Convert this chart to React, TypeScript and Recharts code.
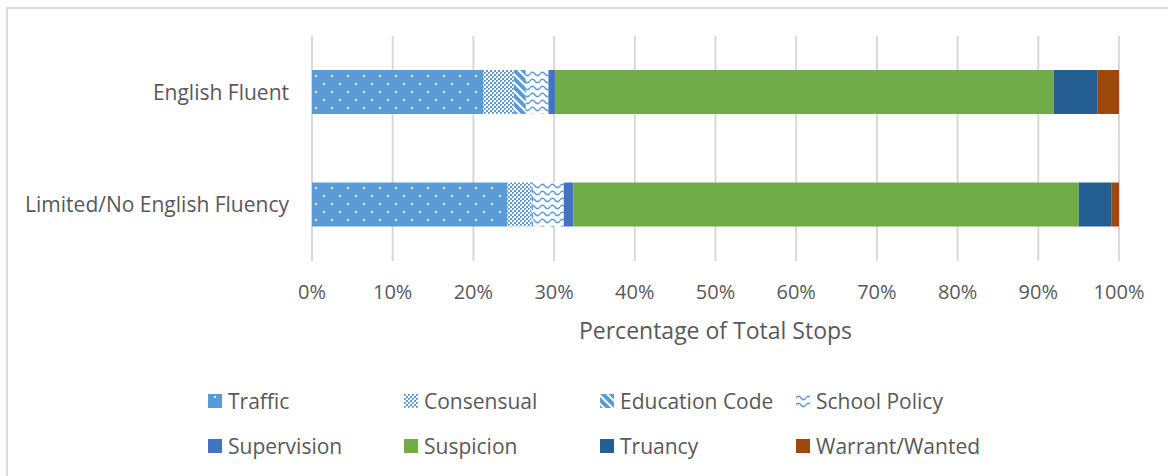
import { BarChart, Bar, XAxis, YAxis, CartesianGrid } from "recharts";

const categories = ["English Fluent", "Limited/No English Fluency"];
const traffic = [21.2, 24.2];
const consensual = [3.8, 3.0];
const educationCode = [1.5, 0.2];
const schoolPolicy = [2.8, 3.8];
const supervision = [0.8, 1.2];
const suspicion = [61.8, 62.6];
const truancy = [5.4, 4.1];
const warrant = [2.7, 0.9];
const xTicks = [0, 10, 20, 30, 40, 50, 60, 70, 80, 90, 100];

const series = [
  { key: "traffic", name: "Traffic", fill: "url(#pTraffic)", legend: "url(#lTraffic)" },
  { key: "consensual", name: "Consensual", fill: "url(#pConsensual)", legend: "url(#pConsensual)" },
  { key: "educationCode", name: "Education Code", fill: "url(#pEducation)", legend: "url(#pEducation)" },
  { key: "schoolPolicy", name: "School Policy", fill: "url(#pSchool)", legend: "url(#pSchool)" },
  { key: "supervision", name: "Supervision", fill: "#4472C4", legend: "#4472C4" },
  { key: "suspicion", name: "Suspicion", fill: "#70AD47", legend: "#70AD47" },
  { key: "truancy", name: "Truancy", fill: "#255E91", legend: "#255E91" },
  { key: "warrant", name: "Warrant/Wanted", fill: "#9E480E", legend: "#9E480E" },
];

const data = categories.map((name, i) => ({
  name,
  traffic: traffic[i],
  consensual: consensual[i],
  educationCode: educationCode[i],
  schoolPolicy: schoolPolicy[i],
  supervision: supervision[i],
  suspicion: suspicion[i],
  truancy: truancy[i],
  warrant: warrant[i],
}));

const FONT = "'Open Sans', sans-serif";
const GRAY = "#595959";
const BLUE = "#5B9BD5";

function Patterns() {
  return (
    <defs>
      <pattern id="pTraffic" width="16" height="16" patternUnits="userSpaceOnUse">
        <rect width="16" height="16" fill={BLUE} />
        <rect x="3" y="3" width="2" height="2" fill="#dcebf8" />
        <rect x="11" y="11" width="2" height="2" fill="#dcebf8" />
      </pattern>
      <pattern id="lTraffic" width="14" height="14" patternUnits="userSpaceOnUse">
        <rect width="14" height="14" fill={BLUE} />
        <rect x="6" y="2" width="2" height="2" fill="#dcebf8" />
      </pattern>
      <pattern id="pConsensual" width="4" height="4" patternUnits="userSpaceOnUse">
        <rect width="4" height="4" fill="#ffffff" />
        <rect x="0" y="0" width="2" height="2" fill={BLUE} />
        <rect x="2" y="2" width="2" height="2" fill={BLUE} />
        <rect x="1" y="1" width="1" height="1" fill="#b9d5ee" />
      </pattern>
      <pattern id="pEducation" width="6" height="6" patternUnits="userSpaceOnUse" patternTransform="rotate(-45)">
        <rect width="6" height="6" fill="#ffffff" />
        <rect x="0" y="0" width="4" height="6" fill={BLUE} />
      </pattern>
      <pattern id="pSchool" width="10" height="7" patternUnits="userSpaceOnUse">
        <rect width="10" height="7" fill="#ffffff" />
        <path d="M0 4 Q2.5 0.5 5 4 T10 4" fill="none" stroke={BLUE} strokeWidth="1.4" />
      </pattern>
    </defs>
  );
}

export default function App() {
  return (
    <div style={{ position: "absolute", left: 0, top: 0, width: 1168, height: 476, background: "#fff", overflow: "hidden", fontFamily: FONT }}>
      <div style={{ position: "absolute", left: 6, top: 7, width: 1180, height: 500, border: "2px solid #dcdcdc", boxSizing: "border-box" }} />
      <div style={{ position: "absolute", left: 0, top: 0 }}>
        <BarChart
          width={1168}
          height={476}
          data={data}
          layout="vertical"
          margin={{ top: 36, right: 49, bottom: 175, left: 0 }}
          barCategoryGap={0}
        >
          <Patterns />
          <CartesianGrid horizontal={false} stroke="#d9d9d9" strokeWidth={2} />
          <XAxis
            type="number"
            domain={[0, 100]}
            ticks={xTicks}
            interval={0}
            tickFormatter={(v) => `${v}%`}
            axisLine={false}
            tickLine={false}
            tickSize={0}
            tickMargin={24}
            height={40}
            tick={{ fill: GRAY, fontSize: 20, fontFamily: FONT }}
          />
          <YAxis
            type="category"
            dataKey="name"
            width={312}
            axisLine={false}
            tickLine={false}
            tickSize={0}
            tickMargin={23}
            tick={{ fill: GRAY, fontSize: 21, fontFamily: FONT }}
          />
          {series.map((s) => (
            <Bar key={s.key} dataKey={s.key} name={s.name} stackId="a" fill={s.fill} barSize={44} isAnimationActive={false} />
          ))}
        </BarChart>
      </div>
      <div style={{ position: "absolute", left: 312, width: 807, top: 315, textAlign: "center", fontSize: 23, color: GRAY, lineHeight: "30px" }}>
        Percentage of Total Stops
      </div>
      {series.map((s, i) => {
        const col = i % 4;
        const row = Math.floor(i / 4);
        return (
          <div
            key={s.key}
            style={{ position: "absolute", left: 208 + col * 196, top: 387 + row * 45, height: 28, display: "flex", alignItems: "center", fontSize: 21, color: GRAY, whiteSpace: "nowrap" }}
          >
            <svg width={14} height={14} style={{ marginRight: 6 }}>
              <Patterns />
              <rect width={14} height={14} fill={s.legend} />
            </svg>
            {s.name}
          </div>
        );
      })}
    </div>
  );
}
